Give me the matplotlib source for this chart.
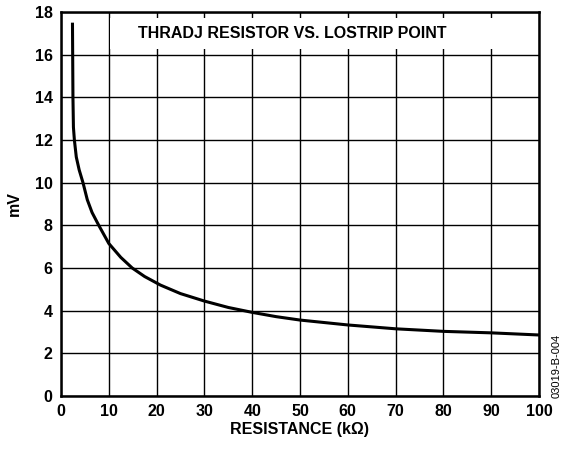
import matplotlib
matplotlib.use("Agg")
from matplotlib import pyplot as plt
from matplotlib.patches import Rectangle

# curve
resistance = [2.4, 2.5, 2.6, 2.8, 3.2, 3.8, 4.6, 5.5, 6.5, 7.9, 10, 12.5, 14.9, 17.5,
              20.8, 25, 30, 35, 40, 45, 50, 60, 70, 80, 90, 100]
mv = [17.5, 14.0, 12.6, 12.0, 11.2, 10.6, 10.0, 9.2, 8.6, 8.0, 7.15, 6.5, 6.0, 5.6,
      5.2, 4.8, 4.45, 4.15, 3.92, 3.72, 3.56, 3.33, 3.15, 3.03, 2.96, 2.86]

x_ticks = list(range(0, 101, 10))
y_ticks = list(range(0, 19, 2))

plt.rcParams['font.family'] = ['Liberation Sans', 'DejaVu Sans']

fig = plt.figure(figsize=(5.66, 4.49), dpi=100)
ax = fig.add_axes([61 / 566, 53 / 449, 478 / 566, 384 / 449])

ax.set_xlim(0, 100)
ax.set_ylim(0, 18)
ax.set_xticks(x_ticks)
ax.set_yticks(y_ticks)
ax.grid(True, color='black', linewidth=1.0, zorder=1)
ax.tick_params(length=0, labelsize=11.5, pad=6)
for lab in ax.get_xticklabels() + ax.get_yticklabels():
    lab.set_fontweight('bold')
for s in ax.spines.values():
    s.set_linewidth(1.8)
    s.set_zorder(5)

ax.plot(resistance, mv, color='black', linewidth=2.2, zorder=3, solid_capstyle='butt')

# white box behind title
ax.add_patch(Rectangle((10.3, 16.27), 89.4, 1.45, facecolor='white', edgecolor='none', zorder=2))
ax.text(48.4, 17.0, 'THRADJ RESISTOR VS. LOSTRIP POINT', ha='center', va='center',
        fontsize=11.5, fontweight='bold', zorder=4)

ax.set_xlabel('RESISTANCE (k\u03a9)', fontsize=11.5, fontweight='bold', labelpad=2)
ax.set_ylabel('mV', fontsize=11.5, fontweight='bold', labelpad=9)

fig.text(557 / 566, 1 - 366 / 449, '03019-B-004', rotation=90, ha='center', va='center', fontsize=8)

fig.savefig('out.png', dpi=100)
